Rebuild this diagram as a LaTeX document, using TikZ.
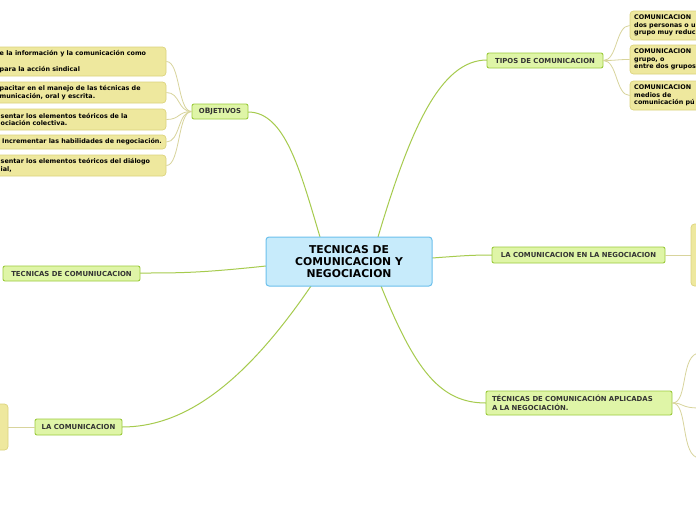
\documentclass[tikz,border=0pt]{standalone}
\usepackage{fontspec}
\setmainfont{DejaVu Sans}
\definecolor{cfill}{HTML}{C7EBFB}
\definecolor{cbord}{HTML}{6CC0EC}
\definecolor{tfill}{HTML}{DFF5A7}
\definecolor{tbord}{HTML}{9CCB3E}
\definecolor{lfill}{HTML}{EEE89E}
\definecolor{lbord}{HTML}{DCD47E}
\definecolor{mline}{HTML}{A6CB4E}
\definecolor{sline}{HTML}{D8D49C}
\definecolor{txt}{HTML}{333333}
\tikzset{
  central/.style={draw=cbord, fill=cfill, line width=1pt, rounded corners=3pt,
    font=\fontsize{10.8}{11.8}\selectfont\bfseries, text=black, align=center,
    minimum width=166, minimum height=49, inner sep=0},
  topic/.style={draw=tbord, fill=tfill, line width=0.9pt, rounded corners=2pt,
    font=\fontsize{6.9}{8.4}\selectfont\bfseries, text=txt,
    minimum height=15, inner sep=0},
  leafbox/.style={draw=lbord, fill=lfill, line width=0.7pt, rounded corners=3.5pt, inner sep=0},
  leaftext/.style={font=\fontsize{6.4}{7.7}\selectfont\bfseries, text=black, align=left, inner sep=0, anchor=west},
  mainline/.style={draw=mline, line width=1pt},
  subline/.style={draw=sline, line width=0.8pt}
}
\begin{document}
\begin{tikzpicture}[x=1pt,y=-1pt]
\useasboundingbox (0,0) rectangle (696,520);
\clip (0,0) rectangle (696,520);
\fill[white] (0,0) rectangle (696,520);

% main connectors
\coordinate (c1) at (320,237);
\coordinate (c2) at (378,237);
\coordinate (c3) at (432,258);
\coordinate (c4) at (381,286);
\coordinate (c5) at (266,266);
\coordinate (c6) at (311,286);
\draw[mainline] (c1) .. controls (300,170) and (285,112) .. (248,112);
\draw[mainline] (c2) .. controls (410,130) and (440,60) .. (487,60);
\draw[mainline] (c3) .. controls (460,256) and (470,255) .. (492,255);
\draw[mainline] (c4) .. controls (415,370) and (440,403) .. (486,403);
\draw[mainline] (c5) .. controls (200,273) and (180,273) .. (140,273);
\draw[mainline] (c6) .. controls (240,390) and (180,427) .. (122,427);

% central
\node[central] (ctr) at (349,261.5) {TECNICAS DE\\COMUNICACION Y\\NEGOCIACION};

% topics
\node[topic, minimum width=56] (obj) at (220,111.5) {O{\fontsize{7.4}{8}\selectfont B}JETIVOS};
\node[topic, minimum width=116] (tip) at (545,60.5) {TIPOS DE COMUNICACION};
\node[topic, minimum width=173, minimum height=16] (neg) at (578.5,255) {LA COMUNICACION EN LA NEGOCIACION};
\node[topic, minimum height=24, text width=174, inner xsep=6, align=left] (apl) at (579,403) {TÉCNICAS DE COMUNICACIÓN APLICADAS\\A LA NEGOCIACIÓN.};
\node[topic, minimum width=137] (tcc) at (71.5,273.5) {TECNICAS DE COMUNIUCACION};
\node[topic, minimum width=87, minimum height=16] (lac) at (78.5,427) {LA COMUNICACION};

% objetivos leaves
\node[leafbox, minimum width=186, minimum height=29] (o1) at (73,61.5) {};
\node[leafbox, minimum width=186, minimum height=21] (o2) at (73,92.5) {};
\node[leafbox, minimum width=186, minimum height=21] (o3) at (73,119.5) {};
\node[leafbox, minimum width=186, minimum height=14] (o4) at (73,142) {};
\node[leafbox, minimum width=186, minimum height=21] (o5) at (73,165.5) {};
\node[leaftext] (o1t) at (-0.5,61.5) {e la información y la comunicación como\\[0pt] \\para la acción sindical};
\node[leaftext] (o2t) at (-0.5,92.5) {pacitar en el manejo de las técnicas de\\municación, oral y escrita.};
\node[leaftext] (o3t) at (0.5,119.5) {sentar los elementos teóricos de la\\ociación colectiva.};
\node[leaftext] (o4t) at (2,142) {Incrementar las habilidades de negociación.};
\node[leaftext] (o5t) at (0.5,165.5) {sentar los elementos teóricos del diálogo\\ial,};
\foreach \n in {o1,o2,o3,o4,o5}{
  \draw[subline] (obj.west) .. controls +(-14,0) and ([xshift=14]\n.east) .. (\n.east);
}

% tipos leaves
\node[leafbox, minimum width=100, minimum height=29] (t1) at (680,25.5) {};
\node[leafbox, minimum width=100, minimum height=29] (t2) at (680,59.5) {};
\node[leafbox, minimum width=100, minimum height=29] (t3) at (680,95.5) {};
\node[leaftext] (t1t) at (634,25.5) {COMUNICACION\\dos personas o u\\grupo muy reduc};
\node[leaftext] (t2t) at (634,59.5) {COMUNICACION\\grupo, o\\entre dos grupos};
\node[leaftext] (t3t) at (634,95.5) {COMUNICACION\\medios de\\comunicación pú};
\foreach \n in {t1,t2,t3}{
  \draw[subline] (tip.east) .. controls +(14,0) and ([xshift=-14]\n.west) .. (\n.west);
}

% negociacion leaf
\node[leafbox, minimum width=40, minimum height=62] (n1) at (711,255) {};
\draw[subline] (neg.east) -- (n1.west);

% aplicadas (off-canvas children)
\coordinate (a1) at (700,353);
\coordinate (a2) at (700,408);
\coordinate (a3) at (700,458);
\draw[subline] (apl.east) .. controls +(16,0) and (680,353) .. (a1);
\draw[subline] (apl.east) .. controls +(12,0) and (680,408) .. (a2);
\draw[subline] (apl.east) .. controls +(16,0) and (680,458) .. (a3);

% la comunicacion leaf
\node[leafbox, minimum width=40, minimum height=46] (l1) at (-12,427) {};
\draw[subline] (lac.west) -- (l1.east);
\end{tikzpicture}
\end{document}
